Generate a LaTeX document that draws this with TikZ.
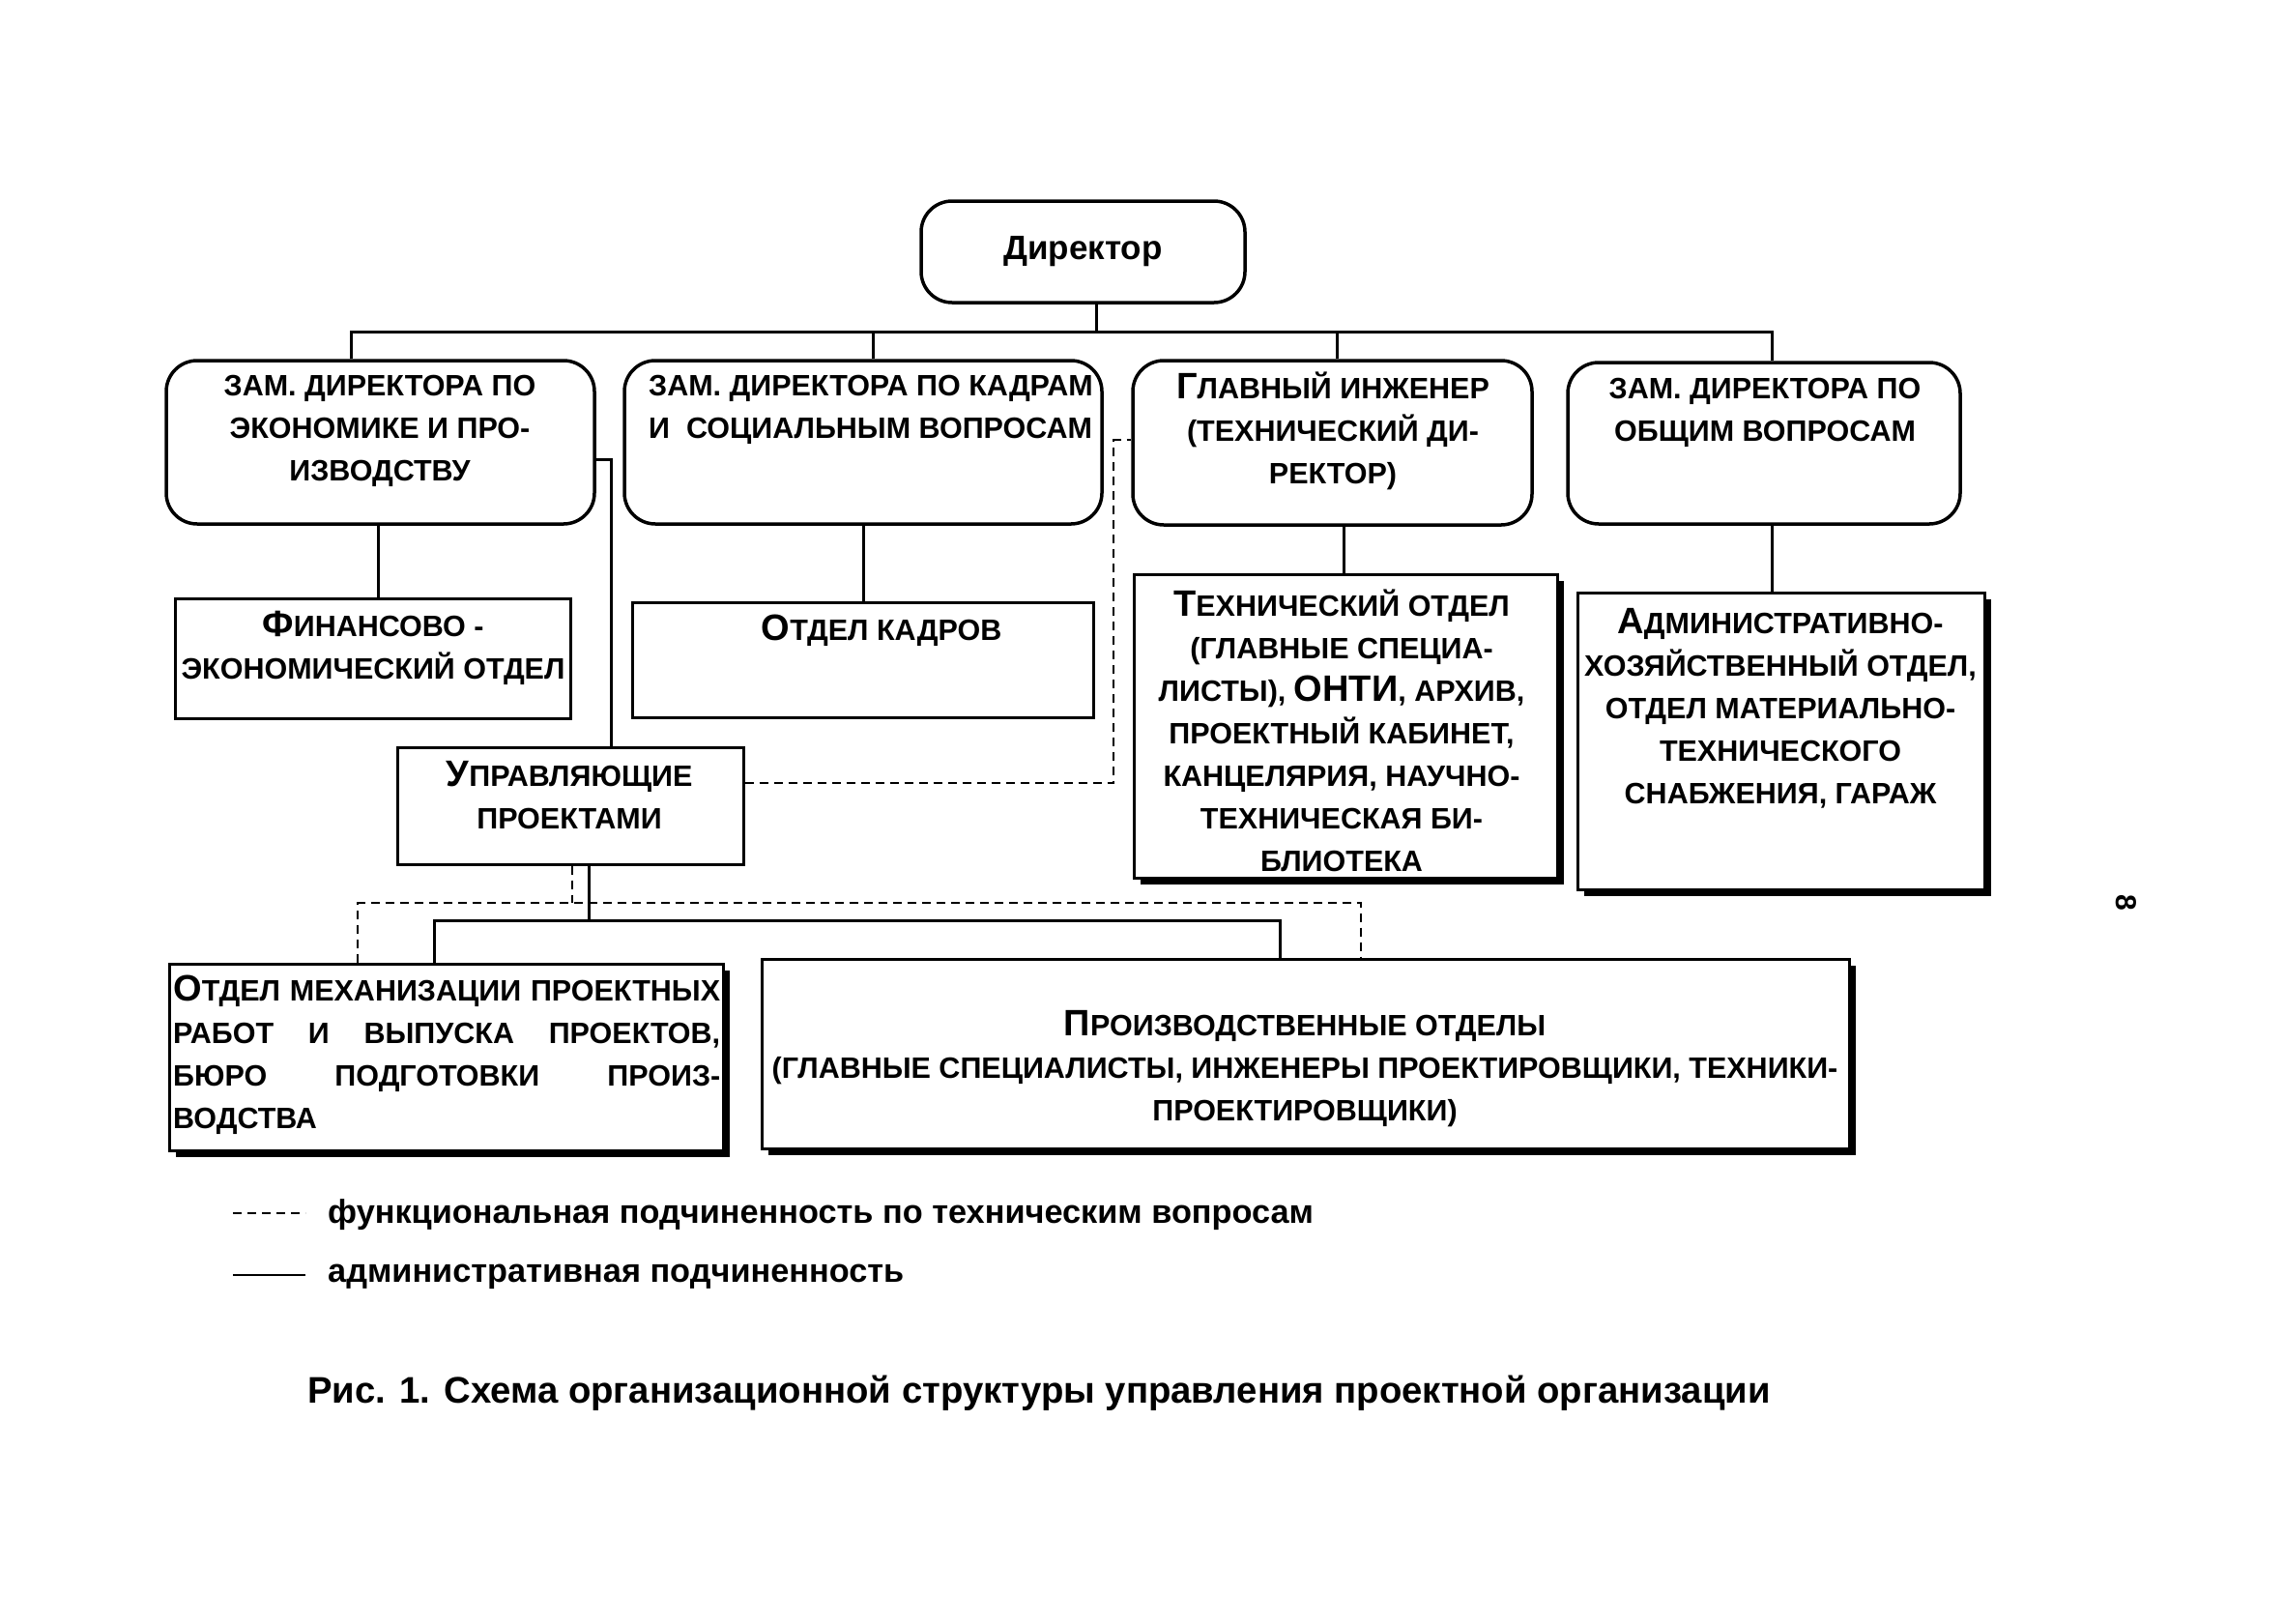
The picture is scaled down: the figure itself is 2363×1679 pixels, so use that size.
\documentclass[tikz,border=0pt]{standalone}
\usepackage{fontspec}
\usepackage{graphicx}
\setmainfont{Liberation Sans}
\usetikzlibrary{shadows}
\newcommand\Cap[1]{{\fontsize{38}{44}\selectfont #1}}
\tikzset{
  rbox/.style={draw, line width=3.5pt, rounded corners=32pt, inner sep=0pt, fill=white},
  plainbox/.style={draw, line width=3pt, inner sep=0pt, fill=white},
  sbox/.style={plainbox, drop shadow={shadow xshift=7pt, shadow yshift=-7pt, opacity=1, fill=black}},
  txt/.style={font=\bfseries\fontsize{30.5}{44}\selectfont, align=center, inner sep=0pt},
  conn/.style={line width=3pt},
  dconn/.style={line width=2.5pt, dash pattern=on 9pt off 6pt}
}
\begin{document}
\begin{tikzpicture}[x=1pt,y=-1pt]
\useasboundingbox (0,0) rectangle (2363,1679);
\fill[white] (0,0) rectangle (2363,1679);

% top level
\node[rbox, minimum width=335pt, minimum height=105pt, font=\bfseries\fontsize{35}{40}\selectfont] (dir) at (1120.5,260.5) {Директор};

\node[rbox, minimum width=443pt, minimum height=169pt] (b1) at (393.5,457.5) {};
\node[rbox, minimum width=494pt, minimum height=169pt] (b2) at (893,457.5) {};
\node[rbox, minimum width=413pt, minimum height=170pt] (b3) at (1378.5,458) {};
\node[rbox, minimum width=406pt, minimum height=167pt] (b4) at (1825,458.5) {};

\node[txt] (b1t) at (393,446) {ЗАМ. ДИРЕКТОРА ПО\\ЭКОНОМИКЕ И ПРО-\\ИЗВОДСТВУ};
\node[txt, align=left, anchor=west] (b2t) at (671,424) {ЗАМ. ДИРЕКТОРА ПО КАДРАМ\\И\ \ СОЦИАЛЬНЫМ ВОПРОСАМ};
\node[txt] (b3t) at (1379,446) {\Cap{Г}ЛАВНЫЙ ИНЖЕНЕР\\(ТЕХНИЧЕСКИЙ ДИ-\\РЕКТОР)};
\node[txt] (b4t) at (1826,427) {ЗАМ. ДИРЕКТОРА ПО\\ОБЩИМ ВОПРОСАМ};

% second level
\node[plainbox, minimum width=409pt, minimum height=124pt] (fin) at (385.5,681) {};
\node[txt] (fint) at (386,670) {\Cap{Ф}ИНАНСОВО -\\ЭКОНОМИЧЕСКИЙ ОТДЕЛ};

\node[plainbox, minimum width=477pt, minimum height=119pt] (kad) at (892.5,682.5) {};
\node[txt] (kadt) at (912,652) {\Cap{О}ТДЕЛ КАДРОВ};

\node[sbox, minimum width=438pt, minimum height=314pt] (tech) at (1392,751) {};
\node[txt] (techt) at (1388,756) {\Cap{Т}ЕХНИЧЕСКИЙ ОТДЕЛ\\(ГЛАВНЫЕ СПЕЦИА-\\ЛИСТЫ), \Cap{ОНТИ}, АРХИВ,\\ПРОЕКТНЫЙ КАБИНЕТ,\\КАНЦЕЛЯРИЯ, НАУЧНО-\\ТЕХНИЧЕСКАЯ БИ-\\БЛИОТЕКА};

\node[sbox, minimum width=421pt, minimum height=307pt] (adm) at (1842.5,766.5) {};
\node[txt] (admt) at (1842,733) {\Cap{А}ДМИНИСТРАТИВНО-\\ХОЗЯЙСТВЕННЫЙ ОТДЕЛ,\\ОТДЕЛ МАТЕРИАЛЬНО-\\ТЕХНИЧЕСКОГО\\СНАБЖЕНИЯ, ГАРАЖ};

\node[plainbox, minimum width=358pt, minimum height=121pt] (upr) at (590,833.5) {};
\node[txt] (uprt) at (589,823) {\Cap{У}ПРАВЛЯЮЩИЕ\\ПРОЕКТАМИ};

% third level
\node[sbox, minimum width=573pt, minimum height=193pt] (mech) at (461.5,1093.5) {};
\node[txt, align=left, anchor=west] (mecht) at (179,1091) {\makebox[566pt][s]{\Cap{О}ТДЕЛ МЕХАНИЗАЦИИ ПРОЕКТНЫХ}\\\makebox[566pt][s]{РАБОТ И ВЫПУСКА ПРОЕКТОВ,}\\\makebox[566pt][s]{БЮРО ПОДГОТОВКИ ПРОИЗ-}\\ВОДСТВА};

\node[sbox, minimum width=1125pt, minimum height=196pt] (prod) at (1350.5,1090) {};
\node[txt] (prodt) at (1350,1106) {\Cap{П}РОИЗВОДСТВЕННЫЕ ОТДЕЛЫ\\(ГЛАВНЫЕ СПЕЦИАЛИСТЫ, ИНЖЕНЕРЫ ПРОЕКТИРОВЩИКИ, ТЕХНИКИ-\\ПРОЕКТИРОВЩИКИ)};

% connectors: director bus
\coordinate (stem) at (1134,343);
\coordinate (busL) at (363,343);
\coordinate (busR) at (1833,343);
\coordinate (d2) at (903,343);
\coordinate (d3) at (1383,343);
\draw[conn] (stem |- dir.south) -- (stem);
\draw[conn] (busL |- b1.north) -- (busL) -- (busR) -- (busR |- b4.north);
\draw[conn] (d2) -- (d2 |- b2.north);
\draw[conn] (d3) -- (d3 |- b3.north);

% stems to second level
\coordinate (s1) at (391,0);
\coordinate (s2) at (893,0);
\coordinate (s3) at (1390,0);
\coordinate (s4) at (1833,0);
\draw[conn] (s1 |- b1.south) -- (s1 |- fin.north);
\draw[conn] (s2 |- b2.south) -- (s2 |- kad.north);
\draw[conn] (s3 |- b3.south) -- (s3 |- tech.north);
\draw[conn] (s4 |- b4.south) -- (s4 |- adm.north);

% box1 -> upr
\coordinate (k1) at (632,475);
\draw[conn] (k1 -| b1.east) -- (k1) -- (k1 |- upr.north);

% dashed upr -> chief engineer
\coordinate (dq) at (1152,810);
\coordinate (dt) at (1152,455);
\draw[dconn] (dq -| upr.east) -- (dq) -- (dt) -- (dt -| b3.west);

% below upr, solid
\coordinate (sv) at (609,952);
\coordinate (sL) at (449,952);
\coordinate (sR) at (1324,952);
\draw[conn] (sv |- upr.south) -- (sv);
\draw[conn] (sL |- mech.north) -- (sL) -- (sR) -- (sR |- prod.north);

% below upr, dashed
\coordinate (dv) at (592,934);
\coordinate (dL) at (370,934);
\coordinate (dR) at (1408,934);
\draw[dconn] (dv |- upr.south) -- (dv);
\draw[dconn] (dL |- mech.north) -- (dL) -- (dR) -- (dR |- prod.north);

% legend
\coordinate (l1a) at (241,1255);
\coordinate (l1b) at (316,1255);
\coordinate (l2a) at (241,1319);
\coordinate (l2b) at (316,1319);
\draw[line width=2pt, dash pattern=on 9pt off 6pt] (l1a) -- (l1b);
\draw[line width=2.5pt] (l2a) -- (l2b);
\node[font=\bfseries\fontsize{34.3}{40}\selectfont, anchor=west, inner sep=0pt] (leg1) at (339,1257) {функциональная подчиненность по техническим вопросам};
\node[font=\bfseries\fontsize{34.3}{40}\selectfont, anchor=west, inner sep=0pt] (leg2) at (339,1321) {административная подчиненность};

% caption
\node[font=\bfseries\fontsize{38.3}{44}\selectfont, inner sep=0pt] (cap) at (1075,1441) {Рис. 1. Схема организационной структуры управления проектной организации};

% page number
\node[font=\bfseries\fontsize{30}{36}\selectfont, rotate=-90, inner sep=0pt] (pg) at (2200,934) {8};
\end{tikzpicture}
\end{document}
